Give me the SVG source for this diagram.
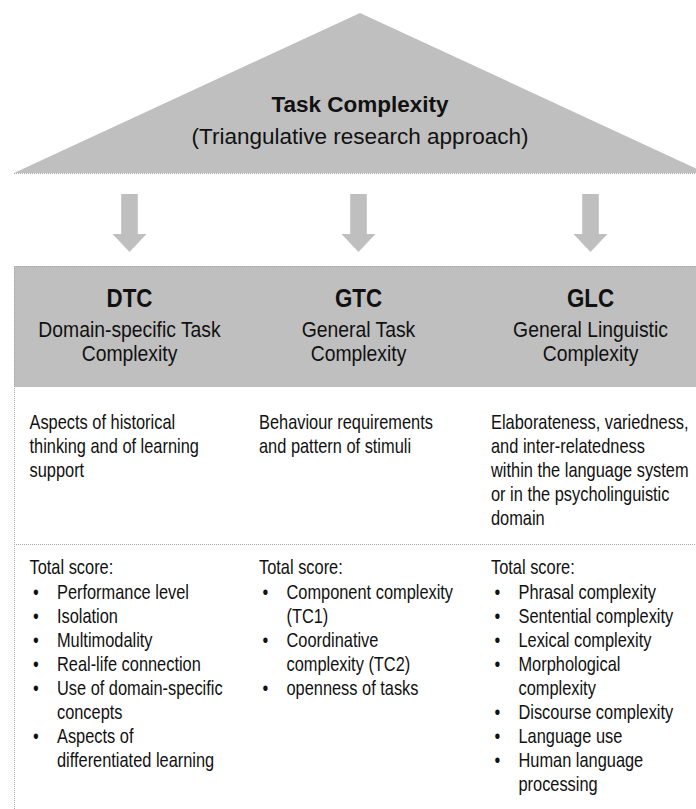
<svg xmlns="http://www.w3.org/2000/svg" width="696" height="809" viewBox="0 0 696 809">
<style>
.t{font-family:'Liberation Sans',Arial,sans-serif;fill:#111;}
.title{font-family:'Liberation Sans',Arial,sans-serif;font-size:22.5px;fill:#111;text-anchor:middle;}
.hb{font-size:26px;font-weight:bold;text-anchor:middle;}
.hr{font-size:22.5px;text-anchor:middle;}
.b{font-size:20px;}
.g{fill:#bfbfbf;}
.dot{stroke:#a8a8a8;stroke-width:1;stroke-dasharray:1 1;fill:none;}
</style>
<defs>
<path id="arr" d="M-8.3,194 H8.3 V234 H17 L0,252 L-17,234 H-8.3 Z" class="g"/>
</defs>
<rect width="696" height="809" fill="#fff"/>
<g id="top">
<polygon class="g" points="360,13 706,173 14,173"/>
<line class="dot" x1="14" y1="173.5" x2="696" y2="173.5"/>
<text class="title" x="360" y="112" font-weight="bold">Task Complexity</text>
<text class="title" x="360" y="144">(Triangulative research approach)</text>
</g>
<g id="connectors">
<use href="#arr" x="129.5"/>
<use href="#arr" x="358.5"/>
<use href="#arr" x="590.5"/>
</g>
<g id="frame">
<rect class="g" x="14" y="266" width="682" height="121"/>
<line class="dot" x1="14" y1="266.5" x2="696" y2="266.5"/>
<line class="dot" x1="14.5" y1="266" x2="14.5" y2="809"/>
<line class="dot" x1="14" y1="544.5" x2="696" y2="544.5"/>
</g>
<g id="dtc" class="t">
<g transform="translate(129.5 0) scale(0.86 1)">
<text class="hb" x="0" y="307">DTC</text>
<text class="hr" x="0" y="337">Domain-specific Task</text>
<text class="hr" x="0" y="361">Complexity</text>
</g>
<g class="b" transform="translate(29.5 0) scale(0.82 1)">
<text x="0" y="429">Aspects of historical</text>
<text x="0" y="453">thinking and of learning</text>
<text x="0" y="477">support</text>
<text x="0" y="574">Total score:</text>
<text x="4.3" y="599">•</text><text x="33.5" y="599">Performance level</text>
<text x="4.3" y="623">•</text><text x="33.5" y="623">Isolation</text>
<text x="4.3" y="647">•</text><text x="33.5" y="647">Multimodality</text>
<text x="4.3" y="671">•</text><text x="33.5" y="671">Real-life connection</text>
<text x="4.3" y="695">•</text><text x="33.5" y="695">Use of domain-specific</text>
<text x="33.5" y="719">concepts</text>
<text x="4.3" y="743">•</text><text x="33.5" y="743">Aspects of</text>
<text x="33.5" y="767">differentiated learning</text>
</g>
</g>
<g id="gtc" class="t">
<g transform="translate(358.5 0) scale(0.86 1)">
<text class="hb" x="0" y="307">GTC</text>
<text class="hr" x="0" y="337">General Task</text>
<text class="hr" x="0" y="361">Complexity</text>
</g>
<g class="b" transform="translate(259 0) scale(0.82 1)">
<text x="0" y="429">Behaviour requirements</text>
<text x="0" y="453">and pattern of stimuli</text>
<text x="0" y="574">Total score:</text>
<text x="4.3" y="599">•</text><text x="33.5" y="599">Component complexity</text>
<text x="33.5" y="623">(TC1)</text>
<text x="4.3" y="647">•</text><text x="33.5" y="647">Coordinative</text>
<text x="33.5" y="671">complexity (TC2)</text>
<text x="4.3" y="695">•</text><text x="33.5" y="695">openness of tasks</text>
</g>
</g>
<g id="glc" class="t">
<g transform="translate(590.5 0) scale(0.86 1)">
<text class="hb" x="0" y="307">GLC</text>
<text class="hr" x="0" y="337">General Linguistic</text>
<text class="hr" x="0" y="361">Complexity</text>
</g>
<g class="b" transform="translate(491 0) scale(0.82 1)">
<text x="0" y="429">Elaborateness, variedness,</text>
<text x="0" y="453">and inter-relatedness</text>
<text x="0" y="477">within the language system</text>
<text x="0" y="501">or in the psycholinguistic</text>
<text x="0" y="525">domain</text>
<text x="0" y="574">Total score:</text>
<text x="4.3" y="599">•</text><text x="33.5" y="599">Phrasal complexity</text>
<text x="4.3" y="623">•</text><text x="33.5" y="623">Sentential complexity</text>
<text x="4.3" y="647">•</text><text x="33.5" y="647">Lexical complexity</text>
<text x="4.3" y="671">•</text><text x="33.5" y="671">Morphological</text>
<text x="33.5" y="695">complexity</text>
<text x="4.3" y="719">•</text><text x="33.5" y="719">Discourse complexity</text>
<text x="4.3" y="743">•</text><text x="33.5" y="743">Language use</text>
<text x="4.3" y="767">•</text><text x="33.5" y="767">Human language</text>
<text x="33.5" y="791">processing</text>
</g>
</g>
</svg>
